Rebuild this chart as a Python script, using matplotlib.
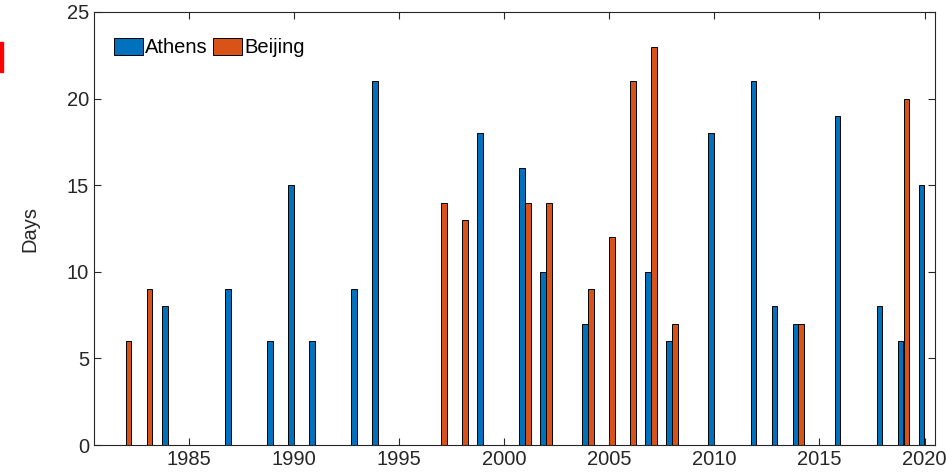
import numpy as np
import matplotlib.pyplot as plt
from matplotlib.patches import Rectangle

plt.rcParams['font.family'] = ['Liberation Sans', 'DejaVu Sans']

years = list(range(1981, 2021))

# days per year, 0 where nothing recorded
athens_days = {1984: 8, 1987: 9, 1989: 6, 1990: 15, 1991: 6, 1993: 9, 1994: 21,
               1999: 18, 2001: 16, 2002: 10, 2004: 7, 2007: 10, 2008: 6, 2010: 18,
               2012: 21, 2013: 8, 2014: 7, 2016: 19, 2018: 8, 2019: 6, 2020: 15}
beijing_days = {1982: 6, 1983: 9, 1997: 14, 1998: 13, 2001: 14, 2002: 14, 2004: 9,
                2005: 12, 2006: 21, 2007: 23, 2008: 7, 2014: 7, 2019: 20}

athens = [athens_days.get(y, 0) for y in years]
beijing = [beijing_days.get(y, 0) for y in years]

fs = 14.5

fig = plt.figure(figsize=(9.46, 4.76), dpi=100)
ax = fig.add_axes([0.0994, 0.0651, 0.889, 0.9097])

x = np.array(years)
w = 0.27
ax.bar(x - 0.14, athens, w, color='#0072BD', edgecolor='black', linewidth=0.7, label='Athens')
ax.bar(x + 0.14, beijing, w, color='#D95319', edgecolor='black', linewidth=0.7, label='Beijing')

ax.set_xlim(1980.5, 2020.5)
ax.set_ylim(0, 25)
ax.set_xticks(range(1985, 2021, 5))
ax.set_yticks(range(0, 26, 5))
ax.tick_params(direction='in', length=5, top=True, right=True, labelsize=fs,
               colors='#262626', width=0.8)
for s in ax.spines.values():
    s.set_color('#262626')
    s.set_linewidth(0.8)

ax.set_ylabel('Days', fontsize=fs, color='#262626', labelpad=20)

leg = ax.legend(loc='upper left', ncol=2, frameon=False, fontsize=fs,
                handlelength=1.45, handleheight=0.9, handletextpad=0.1,
                columnspacing=0.25, borderaxespad=0, borderpad=0,
                bbox_to_anchor=(0.0238, 0.94))

# red mark at the left edge
fig.patches.append(Rectangle((0, 1 - 72 / 476), 3 / 946, 30 / 476,
                             transform=fig.transFigure, color='red'))

fig.savefig('out.png', dpi=100)
